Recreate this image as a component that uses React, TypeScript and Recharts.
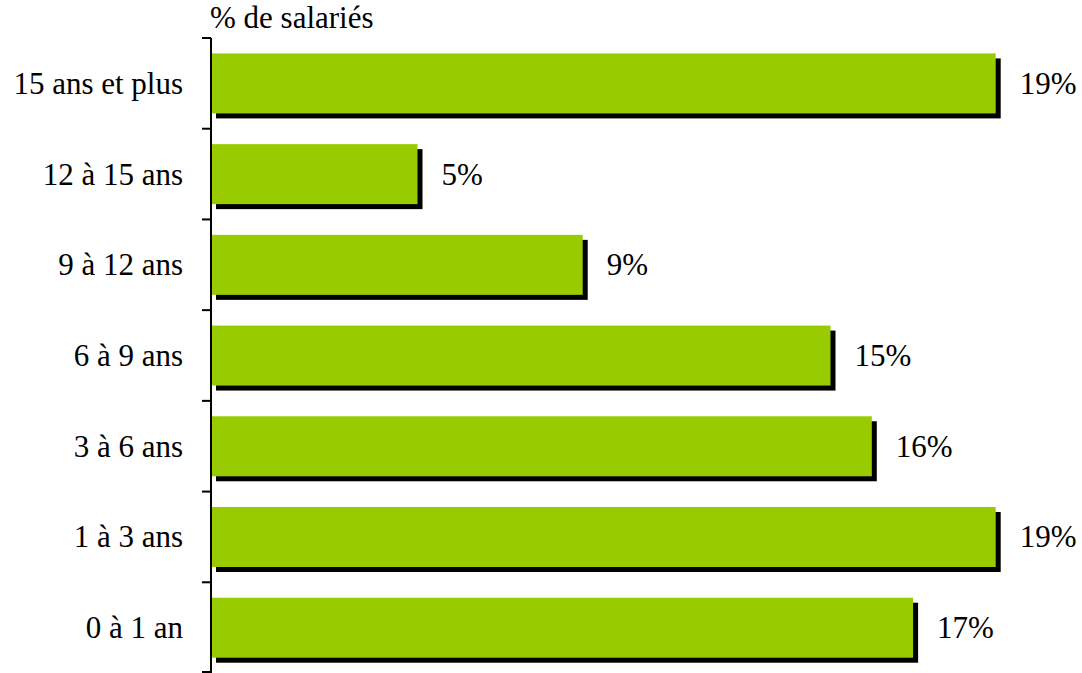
import React from 'react';
import { BarChart, Bar, XAxis, YAxis, LabelList } from 'recharts';

const categories = ['15 ans et plus', '12 à 15 ans', '9 à 12 ans', '6 à 9 ans', '3 à 6 ans', '1 à 3 ans', '0 à 1 an'];
const values = [19, 5, 9, 15, 16, 19, 17];
const valueLabels = ['19%', '5%', '9%', '15%', '16%', '19%', '17%'];
const axisTitle = '% de salariés';

const data = categories.map((c, i) => ({ cat: c, v: values[i], label: valueLabels[i] }));

const W = 1082;
const H = 673;
const MARGIN = { top: 38, right: 45, bottom: 0, left: 0 };
const FONT = 'Liberation Serif';
const FS = 31;
const GREEN = '#99CC00';
const BAND = (H - MARGIN.top - MARGIN.bottom) / categories.length;
const TICK_SIZE = 9;
const TICK_MARGIN = 19;

const textStyle: React.CSSProperties = { fontFamily: FONT, fontSize: FS };

const ShadowBar = (props: any) => {
  const { x, y, width, height } = props;
  if (width == null || height == null) return null;
  return (
    <g>
      <rect x={x + 5} y={y + 5} width={width} height={height} fill="#000" />
      <rect x={x} y={y} width={width} height={height} fill={GREEN} />
    </g>
  );
};

const CatTick = (props: any) => {
  const { x, y, payload, index } = props;
  const ax = x + TICK_SIZE + TICK_MARGIN;
  const half = BAND / 2;
  const idx = index ?? payload?.index;
  return (
    <g>
      <line x1={ax - TICK_SIZE} x2={ax} y1={y - half} y2={y - half} stroke="#000" strokeWidth={2} />
      {idx === categories.length - 1 && (
        <line x1={ax - TICK_SIZE} x2={ax} y1={y + half - 1} y2={y + half - 1} stroke="#000" strokeWidth={2} />
      )}
      <text x={x} y={y} textAnchor="end" dominantBaseline="central" style={textStyle} fill="#000">
        {payload.value}
      </text>
    </g>
  );
};

const ValueLabel = (props: any) => {
  const { x, y, width, height, value } = props;
  return (
    <text
      x={x + width + 24}
      y={y + height / 2}
      textAnchor="start"
      dominantBaseline="central"
      style={textStyle}
      fill="#000"
    >
      {value}
    </text>
  );
};

export default function App() {
  return (
    <div style={{ position: 'absolute', left: 0, top: 0, width: W, height: H, background: '#fff' }}>
      <BarChart width={W} height={H} data={data} layout="vertical" margin={MARGIN} barCategoryGap="17%">
        <XAxis type="number" domain={[0, 20]} hide />
        <YAxis
          type="category"
          dataKey="cat"
          width={211}
          axisLine={{ stroke: '#000', strokeWidth: 2 }}
          tickLine={false}
          tickSize={TICK_SIZE}
          tickMargin={TICK_MARGIN}
          tick={<CatTick />}
          interval={0}
        />
        <Bar dataKey="v" shape={<ShadowBar />} isAnimationActive={false}>
          <LabelList dataKey="label" content={<ValueLabel />} />
        </Bar>
      </BarChart>
      <svg width={W} height={40} style={{ position: 'absolute', left: 0, top: 0 }}>
        <text x={210} y={28} style={textStyle} fill="#000">
          {axisTitle}
        </text>
      </svg>
    </div>
  );
}
